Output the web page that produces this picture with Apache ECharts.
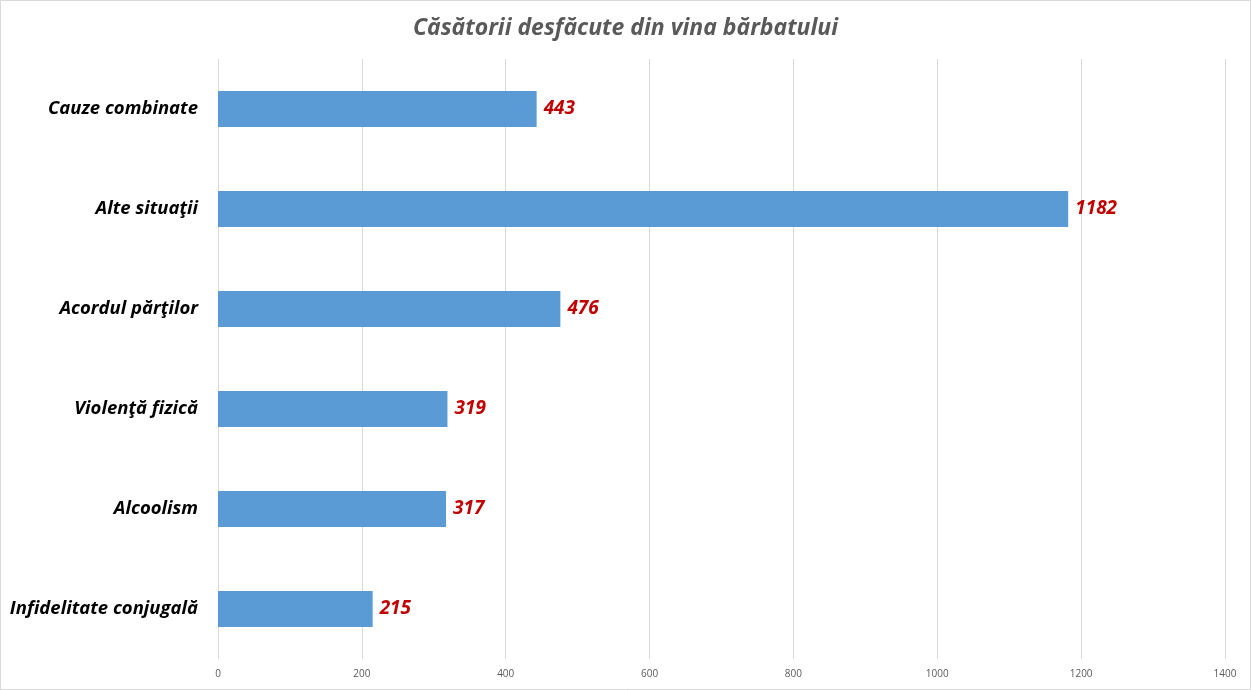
<!DOCTYPE html>
<html><head><meta charset="utf-8">
<script src="https://cdn.jsdelivr.net/npm/echarts@6/dist/echarts.min.js"></script>
<style>html,body{margin:0;padding:0;background:#fff}#c{width:1251px;height:690px}</style>
</head><body><div id="c"></div>
<script>
const categories = ["Infidelitate conjugală","Alcoolism","Violenţă fizică","Acordul părţilor","Alte situaţii","Cauze combinate"];
const values = [215,317,319,476,1182,443];
const titleText = "Căsătorii desfăcute din vina bărbatului";
const FONT = "'Open Sans', 'DejaVu Sans', sans-serif";
const chart = echarts.init(document.getElementById('c'));
chart.setOption({
  animation:false,
  backgroundColor:'#fff',
  title:{text:titleText,left:'center',top:12,textStyle:{fontFamily:FONT,fontSize:23,fontWeight:'bold',fontStyle:'italic',color:'#595959'}},
  graphic:[{type:'rect',shape:{x:0.5,y:0.5,width:1250,height:689},style:{fill:null,stroke:'#d9d9d9',lineWidth:1},silent:true}],
  grid:{left:218,right:26,top:59,bottom:31},
  xAxis:{type:'value',min:0,max:1400,interval:200,
    axisLine:{show:false},axisTick:{show:false},
    splitLine:{lineStyle:{color:'#d9d9d9',width:1}},
    axisLabel:{fontFamily:FONT,fontSize:10,color:'#595959',margin:10,formatter:v=>String(v)}},
  yAxis:{type:'category',data:categories,
    axisLine:{show:false},axisTick:{show:false},
    axisLabel:{fontFamily:FONT,fontSize:18.5,fontWeight:'bold',fontStyle:'italic',color:'#000',margin:20,padding:[4,0,0,0]}},
  series:[{type:'bar',data:values,barWidth:36,itemStyle:{color:'#5B9BD5'},
    label:{show:true,position:'right',distance:7,padding:[4,0,0,0],fontFamily:FONT,fontSize:19,fontWeight:'bold',fontStyle:'italic',color:'#C00000'}}]
});
</script></body></html>
